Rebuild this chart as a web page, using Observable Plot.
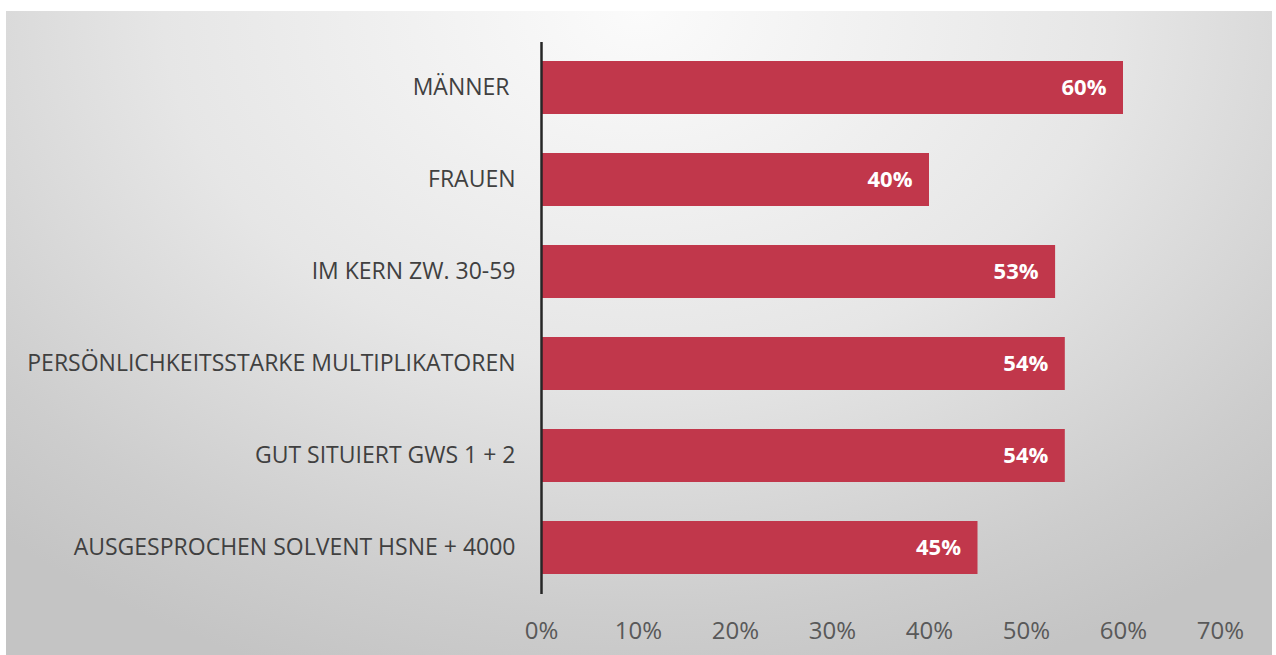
<!DOCTYPE html>
<html>
<head>
<meta charset="utf-8">
<script src="https://cdn.jsdelivr.net/npm/d3@7"></script>
<script src="https://cdn.jsdelivr.net/npm/@observablehq/plot@0.6"></script>
<style>
  html, body { margin: 0; padding: 0; background: #ffffff; }
  #wrap { position: relative; width: 1276px; height: 655px; overflow: hidden; background: #ffffff; }
  #panel { position: absolute; left: 6px; top: 11px; width: 1266px; height: 644px;
    background: radial-gradient(ellipse 75% 110% at 50% 0%, #fbfbfb 0%, #e6e6e6 50%, #cdcdcd 85%, #c4c4c4 100%); }
  #chart { position: absolute; left: 0; top: 0; }
  #chart svg { background: transparent !important; }
</style>
</head>
<body>
<div id="wrap"><div id="panel"></div><div id="chart"></div></div>
<script>
const categories = [
  "MÄNNER\u00a0",
  "FRAUEN",
  "IM KERN ZW. 30-59",
  "PERSÖNLICHKEITSSTARKE MULTIPLIKATOREN",
  "GUT SITUIERT GWS 1 + 2",
  "AUSGESPROCHEN SOLVENT HSNE + 4000"
];
const values = [0.60, 0.40, 0.53, 0.54, 0.54, 0.45];
const xTicks = [0, 0.1, 0.2, 0.3, 0.4, 0.5, 0.6, 0.7];

const data = categories.map((c, i) => ({category: c, value: values[i]}));

const chart = Plot.plot({
  width: 1276,
  height: 655,
  marginLeft: 541,
  marginRight: 56,
  marginTop: 42,
  marginBottom: 61,
  style: {fontFamily: "'Open Sans', sans-serif", background: "transparent"},
  x: {domain: [0, 0.7]},
  y: {domain: categories, paddingInner: 0.42, paddingOuter: 0.21},
  marks: [
    Plot.barX(data, {x: "value", y: "category", fill: "#c1374b"}),
    Plot.text(data, {x: "value", y: "category", text: d => Math.round(d.value * 100) + "%",
      textAnchor: "end", dx: -17, fill: "#ffffff", fontWeight: "bold", fontSize: 22}),
    Plot.ruleX([0], {stroke: "#262626", strokeWidth: 2.5}),
    Plot.axisX({ticks: xTicks, tickFormat: d => Math.round(d * 100) + "%", tickSize: 0, tickPadding: 27,
      fontSize: 24, fill: "#595959", label: null}),
    Plot.axisY({tickSize: 0, tickPadding: 26, fontSize: 23, fill: "#404040", label: null})
  ]
});
document.getElementById("chart").appendChild(chart);
</script>
</body>
</html>
